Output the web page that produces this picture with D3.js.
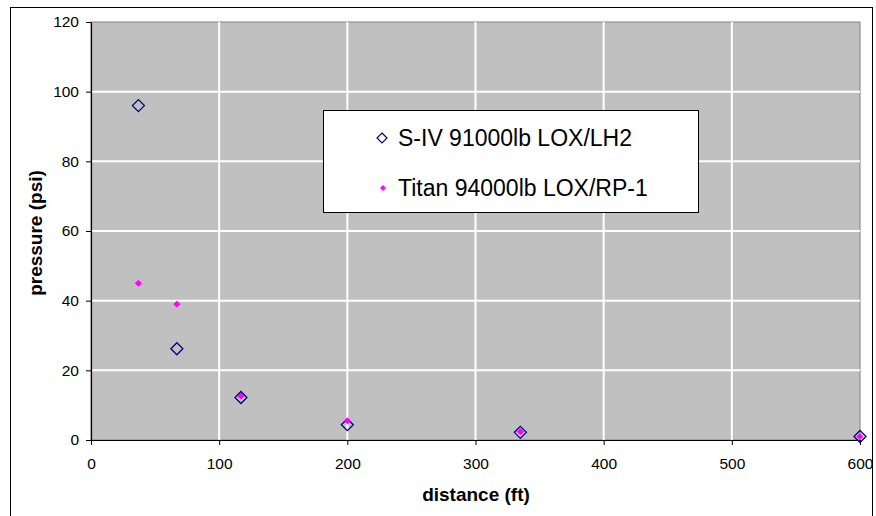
<!DOCTYPE html>
<html><head><meta charset="utf-8">
<script src="https://cdn.jsdelivr.net/npm/d3@7"></script>
<style>body{margin:0;background:#fff}svg{display:block}text{font-family:"Liberation Sans",Arial,sans-serif}</style>
</head><body>
<svg id="c" width="876" height="516"></svg>
<script>
const distanceS4 = [37, 67, 117, 200, 335, 600];
const pressureS4 = [96, 26.2, 12.2, 4.4, 2.2, 1.0];
const distanceTitan = [37, 67, 117, 200, 335, 600];
const pressureTitan = [45, 39, 12.6, 5.5, 2.4, 1.0];
const xTicks = [0, 100, 200, 300, 400, 500, 600];
const yTicks = [0, 20, 40, 60, 80, 100, 120];
const seriesNames = ["S-IV 91000lb LOX/LH2", "Titan 94000lb LOX/RP-1"];

const svg = d3.select("#c");
const L = 91, R = 860, T = 22, B = 440;
const x = d3.scaleLinear().domain([0, 600]).range([L, R]);
const y = d3.scaleLinear().domain([0, 120]).range([B, T]);

// outer frame
svg.append("rect").attr("x", 10.5).attr("y", 7.5).attr("width", 862).attr("height", 530)
  .attr("fill", "#fff").attr("stroke", "#000").attr("stroke-width", 1);

// plot area
svg.append("rect").attr("x", L).attr("y", T).attr("width", R - L).attr("height", B - T)
  .attr("fill", "#c0c0c0").attr("stroke", "#808080").attr("stroke-width", 1);

// gridlines
svg.append("g").selectAll("line").data(xTicks.filter(d => d > 0 && d < 600)).join("line")
  .attr("x1", d => x(d)).attr("x2", d => x(d)).attr("y1", T).attr("y2", B)
  .attr("stroke", "#fff").attr("stroke-width", 2);
svg.append("g").selectAll("line").data(yTicks.filter(d => d > 0 && d < 120)).join("line")
  .attr("x1", L).attr("x2", R).attr("y1", d => y(d)).attr("y2", d => y(d))
  .attr("stroke", "#fff").attr("stroke-width", 2);

// axes
const xAxis = svg.append("g").attr("transform", `translate(0,${B})`)
  .call(d3.axisBottom(x).tickValues(xTicks).tickSize(5).tickSizeOuter(0).tickPadding(13));
const yAxis = svg.append("g").attr("transform", `translate(${L},0)`)
  .call(d3.axisLeft(y).tickValues(yTicks).tickSize(5).tickSizeOuter(0).tickPadding(7));
[xAxis, yAxis].forEach(g => {
  g.select(".domain").attr("stroke", "#000").attr("stroke-width", 1.2);
  g.selectAll(".tick line").attr("stroke", "#000");
  g.selectAll(".tick text").attr("font-size", 15.5).attr("fill", "#000")
    .style("font-family", '"Liberation Sans", Arial, sans-serif');
});

// axis titles
svg.append("text").attr("x", 476).attr("y", 501).attr("text-anchor", "middle")
  .attr("font-size", 19).attr("font-weight", "bold").text("distance (ft)");
svg.append("text").attr("transform", `translate(42,233) rotate(-90)`)
  .attr("text-anchor", "middle").attr("font-size", 19).attr("font-weight", "bold").text("pressure (psi)");

const diamond = (r) => `M0,${-r}L${r},0L0,${r}L${-r},0Z`;

// markers
const s4 = distanceS4.map((d, i) => [d, pressureS4[i]]);
const ti = distanceTitan.map((d, i) => [d, pressureTitan[i]]);
svg.append("g").selectAll("path").data(s4).join("path")
  .attr("transform", d => `translate(${x(d[0])},${y(d[1])})`)
  .attr("d", diamond(6)).attr("fill", "none").attr("stroke", "#000080").attr("stroke-width", 1.3);
svg.append("g").selectAll("path").data(ti).join("path")
  .attr("transform", d => `translate(${x(d[0])},${y(d[1])})`)
  .attr("d", diamond(3)).attr("fill", "#ff00ff").attr("stroke", "#ff00ff").attr("stroke-width", 1);

// legend
const lg = svg.append("g");
lg.append("rect").attr("x", 323.5).attr("y", 110.5).attr("width", 375).attr("height", 102)
  .attr("fill", "#fff").attr("stroke", "#000").attr("stroke-width", 1);
lg.append("path").attr("transform", "translate(382,138)").attr("d", diamond(5))
  .attr("fill", "none").attr("stroke", "#000080").attr("stroke-width", 1.2);
lg.append("path").attr("transform", "translate(383,188)").attr("d", diamond(2.5))
  .attr("fill", "#ff00ff").attr("stroke", "#ff00ff");
lg.append("text").attr("x", 398).attr("y", 145.5).attr("font-size", 23).text(seriesNames[0]);
lg.append("text").attr("x", 398).attr("y", 195.5).attr("font-size", 23).text(seriesNames[1]);
</script>
</body></html>
